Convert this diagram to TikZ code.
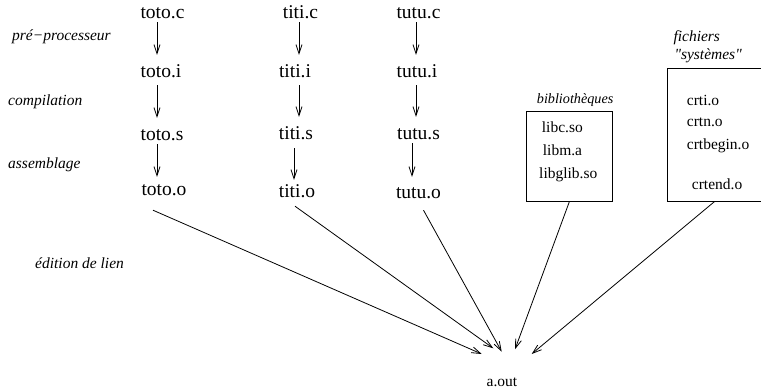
\documentclass[tikz,border=0pt]{standalone}
\usepackage{fontspec}
\setmainfont{Liberation Serif}
% same face without the TeX ligature mapping, so that " stays a straight quote
\newfontfamily\rawserif{Liberation Serif}
\usetikzlibrary{arrows.meta}
\begin{document}
\begin{tikzpicture}[x=1pt,y=-1pt,
  file/.style={font=\fontsize{19.5}{20}\selectfont, inner sep=0pt,
               text height=14pt, text depth=4pt, anchor=base},
  item/.style={font=\fontsize{15.5}{17}\selectfont, inner sep=0pt, anchor=base west},
  stage/.style={font=\fontsize{15.5}{17}\selectfont\itshape, inner sep=0pt, anchor=base west},
  box/.style={draw, line width=0.8pt, inner sep=0pt, outer sep=0pt},
  flow/.style={line width=0.8pt, -{Straight Barb[length=9pt,width=6pt]}},
]
\useasboundingbox (0,0) rectangle (761,389);

% stage names on the left
\node[stage] (pre)  at (12,40)   {pré−processeur};
\node[stage] (comp) at (8,105)   {compilation};
\node[stage] (asm)  at (8,168)   {assemblage};
\node[stage] (link) at (35,268)  {édition de lien};

% source files and their intermediate forms
\node[file] (tc) at (162.5,18) {toto.c};
\node[file] (ti) at (161,77)   {toto.i};
\node[file] (ts) at (162,140)  {toto.s};
\node[file] (to) at (164,195)  {toto.o};

\node[file] (ic) at (300.5,18) {titi.c};
\node[file] (ii) at (295,77)   {titi.i};
\node[file] (is) at (296,139)  {titi.s};
\node[file] (io) at (297,197)  {titi.o};

\node[file] (uc) at (418.5,18) {tutu.c};
\node[file] (ui) at (417,77)   {tutu.i};
\node[file] (us) at (418.5,139){tutu.s};
\node[file] (uo) at (418.5,198){tutu.o};

% columns of the vertical arrows
\coordinate (xa)  at (157,0);
\coordinate (xb)  at (299,0);
\coordinate (xb2) at (294,0);
\coordinate (xc)  at (416,0);
\coordinate (xc2) at (412,0);

\draw[flow, shorten >=8pt] (tc.south -| xa) -- (ti.north -| xa);
\draw[flow, shorten <=4pt, shorten >=8pt] (ti.south -| xa) -- (ts.north -| xa);
\draw[flow, shorten >=4pt] (ts.south -| xa) -- (to.north -| xa);

\draw[flow, shorten >=8pt] (ic.south -| xb) -- (ii.north -| xb);
\draw[flow, shorten <=4pt, shorten >=8pt] (ii.south -| xb) -- (is.north -| xb);
\draw[flow, shorten <=5pt, shorten >=3pt] (is.south -| xb2) -- (io.north -| xb2);

\draw[flow, shorten >=8pt] (uc.south -| xc) -- (ui.north -| xc);
\draw[flow, shorten <=4pt, shorten >=8pt] (ui.south -| xc) -- (us.north -| xc);
\draw[flow, shorten >=7pt] (us.south -| xc2) -- (uo.north -| xc2);

% libraries
\node[stage, font=\fontsize{14.2}{16}\selectfont\itshape] (libt) at (536.7,103) {bibliothèques};
\node[box, minimum width=86.7pt, minimum height=90pt] (bib) at (569.35,156.7) {};
\node[item] (l1) at (541.7,132.7) {libc.so};
\node[item] (l2) at (542.7,155)   {libm.a};
\node[item] (l3) at (539,178)     {libglib.so};

% system start-up files
\node[stage] (fich) at (673.3,41.7) {fichiers};
\node[stage, font=\fontsize{15.5}{17}\selectfont\rawserif\itshape] (syst) at (674.3,59.3) {"systèmes"};
\node[box, minimum width=94.3pt, minimum height=133.4pt] (sys) at (714.85,135) {};
\node[item] (s1) at (686.7,105)   {crti.o};
\node[item] (s2) at (686.7,126.7) {crtn.o};
\node[item] (s3) at (686.7,149.3) {crtbegin.o};
\node[item] (s4) at (691.7,189.3) {crtend.o};

% linked program
\node[item, anchor=base] (aout) at (502,386.7) {a.out};
\coordinate (e1) at (481.7,354);
\coordinate (e2) at (493.3,348.3);
\coordinate (e3) at (501.7,351.7);
\coordinate (e4) at (515,349.3);
\coordinate (e5) at (531.7,354);

\draw[flow] ([shift={(-11,11)}]to.south) -- (e1);
\draw[flow] ([shift={(-2,5)}]io.south) -- (e2);
\draw[flow] ([shift={(5,8)}]uo.south) -- (e3);
\draw[flow] (bib.south) -- (e4);
\draw[flow] ([xshift=-0.5pt]sys.south) -- (e5);
\end{tikzpicture}
\end{document}
